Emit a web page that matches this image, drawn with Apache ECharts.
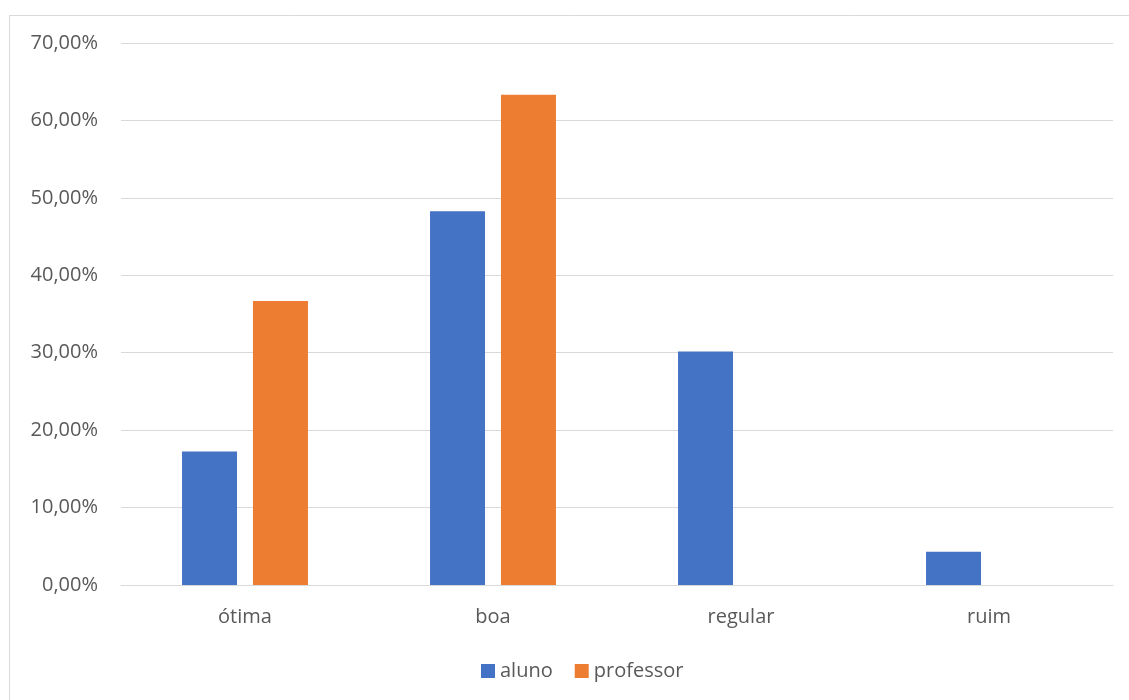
<!DOCTYPE html>
<html><head><meta charset="utf-8">
<script src="https://cdn.jsdelivr.net/npm/echarts@6/dist/echarts.min.js"></script>
<style>html,body{margin:0;padding:0;background:#fff}#c{width:1129px;height:700px}</style>
</head><body><div id="c"></div>
<script>
var categories = ['ótima', 'boa', 'regular', 'ruim'];
var aluno = [17.24, 48.28, 30.17, 4.31];
var professor = [36.67, 63.33, null, null];
var yTicks = [0, 10, 20, 30, 40, 50, 60, 70];

var chart = echarts.init(document.getElementById('c'));
var font = 'Open Sans';
chart.setOption({
  animation: false,
  backgroundColor: '#fff',
  graphic: [{type:'rect', shape:{x:9.5,y:15.5,width:1300,height:900}, style:{fill:'none', stroke:'#d9d9d9', lineWidth:1}}],
  grid: {left:121, right:16, top:43, bottom:115, containLabel:false},
  xAxis: {type:'category', data:categories,
    axisLine:{lineStyle:{color:'#d9d9d9', width:1}}, axisTick:{show:false},
    axisLabel:{color:'#595959', fontSize:20, fontFamily:font, margin:22}},
  yAxis: {type:'value', min:yTicks[0], max:yTicks[yTicks.length-1], interval:10,
    axisLine:{show:false}, axisTick:{show:false},
    splitLine:{lineStyle:{color:'#d9d9d9', width:1}},
    axisLabel:{color:'#595959', fontSize:20, fontFamily:font, margin:23,
      formatter:function(v){return v.toFixed(2).replace('.', ',') + '%';}}},
  legend: {top:656, left:476, itemWidth:14, itemHeight:14, itemGap:22,
    icon:'rect', textStyle:{color:'#595959', fontSize:20, fontFamily:font},
    data:['aluno','professor']},
  series: [
    {name:'aluno', type:'bar', data:aluno, barWidth:55, barGap:'29%', itemStyle:{color:'#4472c4'}},
    {name:'professor', type:'bar', data:professor, barWidth:55, itemStyle:{color:'#ed7d31'}}
  ]
});
</script></body></html>
